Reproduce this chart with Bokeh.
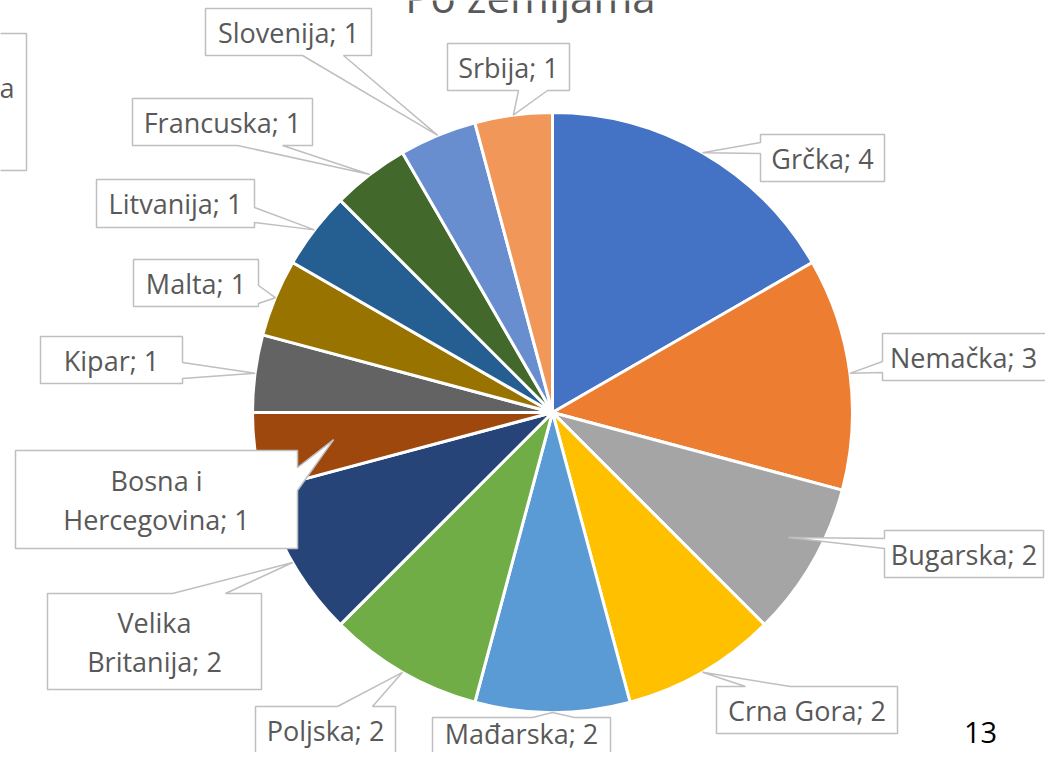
import math
from bokeh.plotting import figure
from bokeh.models import Range1d, ColumnDataSource
from bokeh.core.properties import value
from bokeh.embed import file_html
from bokeh.resources import INLINE

# ---------------- data ----------------
countries = ["Grčka", "Nemačka", "Bugarska", "Crna Gora", "Mađarska", "Poljska",
             "Velika Britanija", "Bosna i Hercegovina", "Kipar", "Malta",
             "Litvanija", "Francuska", "Slovenija", "Srbija"]
counts = [4, 3, 2, 2, 2, 2, 2, 1, 1, 1, 1, 1, 1, 1]
colors = ["#4472C4", "#ED7D31", "#A5A5A5", "#FFC000", "#5B9BD5", "#70AD47",
          "#264478", "#9E480E", "#636363", "#997300", "#255E91", "#43682B",
          "#698ED0", "#F1975A"]
title_text = "Po zemljama"
page_number = "13"
# words kept on the first line of wrapped labels
wrap_words = {"Velika Britanija": 1, "Bosna i Hercegovina": 2}

# ---------------- layout (screen pixels) ----------------
W, H = 1045, 752
CX, CY, R = 552, 412, 300
FONT = value("Open Sans")
TXT = "#595959"
BORDER = "#BFBFBF"

# box (left, top, right, bottom), pointer edge, pointer base (a1, a2),
# tip: (fraction along slice, fraction of radius), text offset (dx, dy)
callout_layout = {
    "Grčka":               ((760, 134, 884, 181), "left", (142, 153), (0.5, 1.0), (0, 0)),
    "Nemačka":             ((882, 333, 1080, 380), "left", (361, 372), (0.5, 1.0), (-18, 0)),
    "Bugarska":            ((884, 530, 1043, 577), "left", (538, 548), (0.43, 0.89), (0, 0)),
    "Crna Gora":           ((716, 686, 897, 733), "top", (745, 790), (0.5, 1.0), (0, 0)),
    "Mađarska":            ((432, 717, 610, 770), "top", (532, 574), (0.5, 1.0), (0, -11)),
    "Poljska":             ((255, 706, 395, 753), "top", (337, 372), (0.5, 1.0), (0, 0)),
    "Velika Britanija":    ((47, 593, 261, 689), "top", (172, 225), (0.5, 1.0), (0, 0)),
    "Bosna i Hercegovina": ((15, 450, 297, 548), "right", (467, 490), (0.53, 0.735), (0, 0)),
    "Kipar":               ((40, 336, 182, 383), "right", (362, 378), (0.5, 1.0), (0, 0)),
    "Malta":               ((133, 259, 258, 306), "right", (285, 303), (0.5, 1.0), (0, 0)),
    "Litvanija":           ((96, 179, 254, 227), "right", (207, 222), (0.5, 1.0), (0, 0)),
    "Francuska":           ((132, 98, 312, 145), "bottom", (237, 282), (0.5, 1.0), (0, 0)),
    "Slovenija":           ((205, 8, 371, 55), "bottom", (302, 343), (0.5, 1.0), (0, 0)),
    "Srbija":              ((447, 43, 569, 90), "bottom", (518, 547), (0.5, 1.0), (0, 0)),
}

p = figure(width=W, height=H, x_range=Range1d(0, W), y_range=Range1d(-H, 0),
           output_backend="svg", toolbar_location=None, min_border=0,
           x_axis_location=None, y_axis_location=None)
p.grid.visible = False
p.outline_line_color = None
p.background_fill_color = "white"
p.border_fill_color = "white"

# ---------------- pie ----------------
total = sum(counts)
cum = [0]
for c in counts:
    cum.append(cum[-1] + c)
start = [math.pi / 2 - 2 * math.pi * cum[i] / total for i in range(len(counts))]
end = [math.pi / 2 - 2 * math.pi * cum[i + 1] / total for i in range(len(counts))]
src = ColumnDataSource(dict(x=[CX] * len(counts), y=[-CY] * len(counts),
                            start=start, end=end, color=colors))
p.wedge(x="x", y="y", radius=R, start_angle="start", end_angle="end",
        direction="clock", fill_color="color", line_color="white", line_width=3,
        source=src)

# ---------------- callouts ----------------
xs, ys = [], []
tx, ty, tt = [], [], []
for i, name in enumerate(countries):
    (l, t, r, b), edge, (a1, a2), (frac, rf), (dx, dy) = callout_layout[name]
    ang = 2 * math.pi * (cum[i] + frac * counts[i]) / total  # clockwise from top
    tipx = CX + rf * R * math.sin(ang)
    tipy = CY - rf * R * math.cos(ang)
    pts = [(l, t)]
    if edge == "top":
        pts += [(a1, t), (tipx, tipy), (a2, t)]
    pts.append((r, t))
    if edge == "right":
        pts += [(r, a1), (tipx, tipy), (r, a2)]
    pts.append((r, b))
    if edge == "bottom":
        pts += [(a2, b), (tipx, tipy), (a1, b)]
    pts.append((l, b))
    if edge == "left":
        pts += [(l, a2), (tipx, tipy), (l, a1)]
    xs.append([q[0] for q in pts])
    ys.append([-q[1] for q in pts])

    label = f"{name}; {counts[i]}"
    if name in wrap_words:
        words = label.split(" ")
        k = wrap_words[name]
        lines = [" ".join(words[:k]), " ".join(words[k:])]
    else:
        lines = [label]
    cy = (t + b) / 2 + dy
    lh = 39
    for j, ln in enumerate(lines):
        tx.append((l + r) / 2 + dx)
        ty.append(-(cy + (j - (len(lines) - 1) / 2) * lh))
        tt.append(ln)

p.patches(xs=xs, ys=ys, fill_color="white", line_color=BORDER, line_width=1.5)
p.text(x=tx, y=ty, text=tt, text_font=FONT, text_font_size="27px",
       text_color=TXT, text_align="center", text_baseline="middle")

# partially visible neighbouring box on the left edge
p.patches(xs=[[-300, 26, 26, -300]], ys=[[-33, -33, -170, -170]],
          fill_color="white", line_color=BORDER, line_width=1.5)
p.text(x=[14], y=[-87], text=["a"], text_font=FONT, text_font_size="27px",
       text_color=TXT, text_align="right", text_baseline="middle")

# title (mostly cut off at top, as in the source)
p.text(x=[530], y=[4], text=[title_text], text_font=FONT, text_font_size="42px",
       text_color=TXT, text_align="center", text_baseline="alphabetic")

# page number
p.text(x=[980], y=[-732], text=[page_number], text_font=FONT, text_font_size="29px",
       text_color="black", text_align="center", text_baseline="alphabetic")

open("out.html", "w").write(file_html(p, INLINE))
